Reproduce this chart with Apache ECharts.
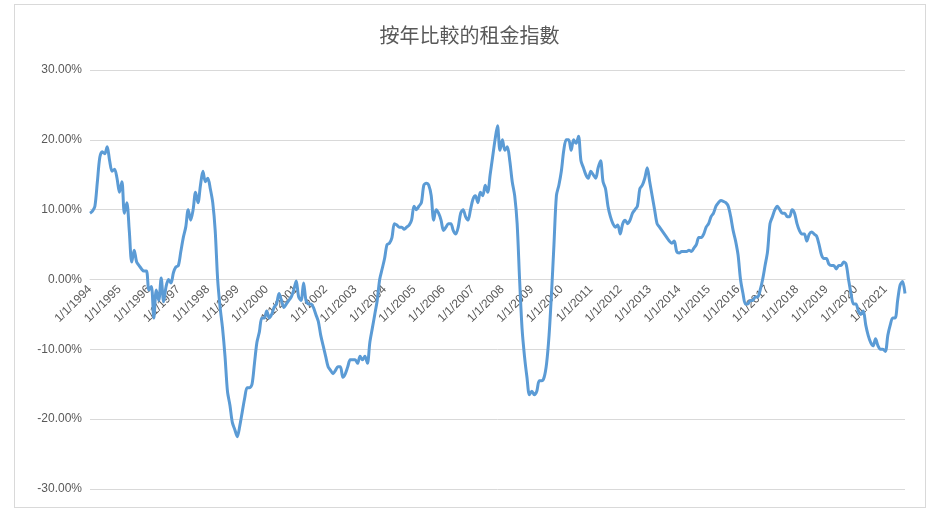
<!DOCTYPE html><html><head><meta charset="utf-8">
<script src="https://cdn.jsdelivr.net/npm/echarts@6/dist/echarts.min.js"></script>
<style>html,body{margin:0;background:#fff}#frame{position:absolute;left:14px;top:4px;width:910px;height:502px;border:1px solid #d9d9d9}#c{width:939px;height:515px;position:absolute;left:0;top:0}</style>
</head><body><div id="frame"></div><div id="c"></div><script>
const title = "按年比較的租金指數";
const startYear = 1994;
const yTicks = [-30,-20,-10,0,10,20,30];
const v1994=[9.5,9.8,10.5,14,17.5,18.3,18,19,17,15.5,15.8,14.5];
const v1995=[12.5,14,9.5,11,7,2.5,4.2,2.5,2,1.5,1.2,1.2];
const v1996=[-1.5,-1,-5.5,-1.5,-3,0.2,-3.2,-1,0,-0.5,1,1.8];
const v1997=[2,4,6,7.5,10,8.5,10,12.5,11,13.5,15.5,14];
const v1998=[14.5,13,11,7,0,-4,-7,-11,-16,-18,-20.5,-21.5];
const v1999=[-22.5,-21,-19,-17,-15.5,-15.5,-15,-12,-9,-7.5,-5.5,-5.5];
const v2000=[-4.5,-5.5,-5,-4,-3.5,-2,-3,-4,-3.5,-3,-2.5,-1.5];
const v2001=[-0.2,-2.5,-3,-0.5,-3,-3.5,-3.5,-4,-5,-6,-8,-9.5];
const v2002=[-11,-12.5,-13,-13.5,-13,-12.5,-12.5,-14,-13.5,-12.5,-11.5,-11.5];
const v2003=[-11.5,-12,-11,-11.5,-11,-12,-9,-7,-5,-3,0,1.5];
const v2004=[3,5,5.2,6,8,7.8,7.5,7.5,7.2,7.5,7.8,8.5];
const v2005=[10.5,10,10.5,11,13.5,13.8,13.5,12,8.5,10,9.5,8.5];
const v2006=[7,7.5,8,8,7,6.5,7.5,9.5,10,9,8.5,10];
const v2007=[11.5,12,11,12.5,12,13.5,12.5,15,17.5,20,22,18.5];
const v2008=[20,18.5,19,17,14,12,8,0,-7,-11,-14,-16.5];
const v2009=[-16,-16.5,-16,-14.5,-14.5,-14,-12,-8,-2,5,12,13.5];
const v2010=[15.5,18.5,20,20,18.5,20,19.5,20.5,17,16,15,14.5];
const v2011=[15.5,15,14.5,16,17,14,13,10.5,9,8,7.5,7.8];
const v2012=[6.5,8,8.5,8,8.5,9.5,10,10.5,13,13.5,14.5,16];
const v2013=[14,12,10,8,7.5,7,6.5,6,5.5,5.2,5.5,4];
const v2014=[3.8,4,4,4,4.2,4,4.5,5,6,6,6.5,7.5];
const v2015=[8,9,9.5,10.5,11,11.3,11.2,11,10.5,9,7,5.5];
const v2016=[3.5,0,-2,-3.5,-3.5,-3,-3,-2.5,-2.5,-1.5,0,2];
const v2017=[4,8,9,10,10.5,10,9.5,9.5,9,9,10,9.5];
const v2018=[8,7,6.5,6.5,5.5,6.5,6.8,6.5,6.2,5,3.5,3];
const v2019=[3,2.2,2,2,1.5,2,2,2.5,2.2,0,-2,-3.5];
const v2020=[-3.5,-4.5,-5,-4.5,-6.5,-8,-9,-9.5,-8.5,-9.5,-10,-10];
const v2021=[-10.3,-8,-6.5,-5.5,-5.5,-3,-0.8,-0.3,-2];
const values=[].concat(v1994,v1995,v1996,v1997,v1998,v1999,v2000,v2001,v2002,v2003,v2004,v2005,v2006,v2007,v2008,v2009,v2010,v2011,v2012,v2013,v2014,v2015,v2016,v2017,v2018,v2019,v2020,v2021);
const categories=values.map((_,i)=>((i%12)+1)+'/1/'+(startYear+Math.floor(i/12)));
const ch=echarts.init(document.getElementById('c'));
ch.setOption({
 title:{text:title,left:'center',top:20,textStyle:{fontSize:20,fontWeight:'normal',color:'#595959',fontFamily:'Noto Sans CJK TC'}},
 grid:{left:90,right:34,top:70,bottom:26,containLabel:false,outerBoundsMode:'none'},
 xAxis:{type:'category',data:categories,boundaryGap:false,position:'bottom',offset:-209.5,axisLine:{onZero:false,lineStyle:{color:'#d9d9d9'}},axisTick:{show:false},
  axisLabel:{interval:11,rotate:45,color:'#595959',fontSize:12,fontFamily:'Liberation Sans'},splitLine:{show:false}},
 yAxis:{type:'value',min:yTicks[0],max:yTicks[yTicks.length-1],interval:10,axisLine:{show:false},axisTick:{show:false},
  axisLabel:{color:'#595959',fontSize:12,fontFamily:'Liberation Sans',formatter:v=>v.toFixed(2)+'%'},splitLine:{lineStyle:{color:'#d9d9d9'}}},
 series:[{type:'line',data:values,showSymbol:false,smooth:0.3,z:3,lineStyle:{color:'#5b9bd5',width:3},itemStyle:{color:'#5b9bd5'}}],
 animation:false
});
</script></body></html>
